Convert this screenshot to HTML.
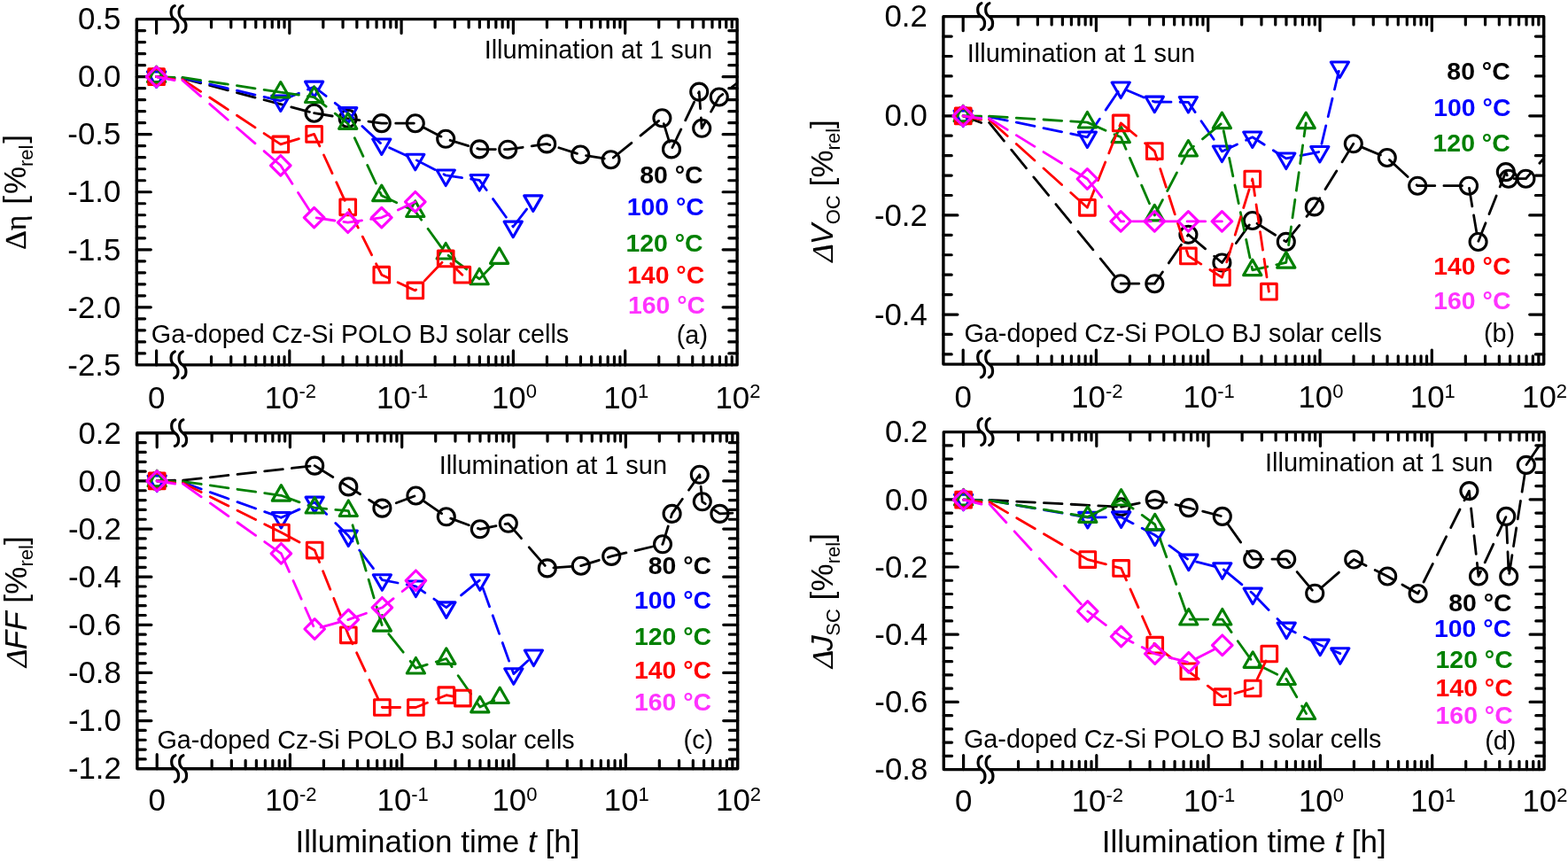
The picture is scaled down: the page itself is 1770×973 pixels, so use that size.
<!DOCTYPE html>
<html lang="en"><head><meta charset="utf-8"><title>Illumination degradation of Ga-doped Cz-Si POLO BJ solar cells</title>
<style>
html,body{margin:0;padding:0;background:#fff;}
body{width:1770px;height:973px;overflow:hidden;font-family:"Liberation Sans",Arial,sans-serif;}
svg{display:block;}
svg text{white-space:pre;}
</style></head><body>
<svg width="1770" height="973" viewBox="0 0 1770 973">
<rect width="1770" height="973" fill="#fff"/>
<defs><clipPath id="clip_a"><rect x="134.3" y="7.6" width="699" height="418.3"/></clipPath><clipPath id="clip_b"><rect x="1044.9" y="4.65" width="699" height="420.45"/></clipPath><clipPath id="clip_c"><rect x="134.9" y="474.8" width="699" height="406.9"/></clipPath><clipPath id="clip_d"><rect x="1045.3" y="473.6" width="699" height="409"/></clipPath></defs>
<g id="panel_a">
<g stroke="#000" stroke-width="3.4" fill="none" stroke-linecap="round"><rect x="154.3" y="21.6" width="677.8" height="390.3" stroke-linejoin="round"/><path stroke-width="3.2" d="M154.3 34.61h9.3 M832.1 34.61h-9.3 M154.3 47.62h9.3 M832.1 47.62h-9.3 M154.3 60.63h9.3 M832.1 60.63h-9.3 M154.3 73.64h9.3 M832.1 73.64h-9.3 M154.3 86.65h16 M832.1 86.65h-16 M154.3 99.66h9.3 M832.1 99.66h-9.3 M154.3 112.67h9.3 M832.1 112.67h-9.3 M154.3 125.68h9.3 M832.1 125.68h-9.3 M154.3 138.69h9.3 M832.1 138.69h-9.3 M154.3 151.7h16 M832.1 151.7h-16 M154.3 164.71h9.3 M832.1 164.71h-9.3 M154.3 177.72h9.3 M832.1 177.72h-9.3 M154.3 190.73h9.3 M832.1 190.73h-9.3 M154.3 203.74h9.3 M832.1 203.74h-9.3 M154.3 216.75h16 M832.1 216.75h-16 M154.3 229.76h9.3 M832.1 229.76h-9.3 M154.3 242.77h9.3 M832.1 242.77h-9.3 M154.3 255.78h9.3 M832.1 255.78h-9.3 M154.3 268.79h9.3 M832.1 268.79h-9.3 M154.3 281.8h16 M832.1 281.8h-16 M154.3 294.81h9.3 M832.1 294.81h-9.3 M154.3 307.82h9.3 M832.1 307.82h-9.3 M154.3 320.83h9.3 M832.1 320.83h-9.3 M154.3 333.84h9.3 M832.1 333.84h-9.3 M154.3 346.85h16 M832.1 346.85h-16 M154.3 359.86h9.3 M832.1 359.86h-9.3 M154.3 372.87h9.3 M832.1 372.87h-9.3 M154.3 385.88h9.3 M832.1 385.88h-9.3 M154.3 398.89h9.3 M832.1 398.89h-9.3 M176.6 21.6v16 M176.6 411.9v-16 M238.52 21.6v9.3 M238.52 411.9v-9.3 M260.76 21.6v9.3 M260.76 411.9v-9.3 M276.54 21.6v9.3 M276.54 411.9v-9.3 M288.78 21.6v9.3 M288.78 411.9v-9.3 M298.78 21.6v9.3 M298.78 411.9v-9.3 M307.24 21.6v9.3 M307.24 411.9v-9.3 M314.56 21.6v9.3 M314.56 411.9v-9.3 M321.02 21.6v9.3 M321.02 411.9v-9.3 M326.8 21.6v16 M326.8 411.9v-16 M364.82 21.6v9.3 M364.82 411.9v-9.3 M387.06 21.6v9.3 M387.06 411.9v-9.3 M402.84 21.6v9.3 M402.84 411.9v-9.3 M415.08 21.6v9.3 M415.08 411.9v-9.3 M425.08 21.6v9.3 M425.08 411.9v-9.3 M433.54 21.6v9.3 M433.54 411.9v-9.3 M440.86 21.6v9.3 M440.86 411.9v-9.3 M447.32 21.6v9.3 M447.32 411.9v-9.3 M453.1 21.6v16 M453.1 411.9v-16 M491.12 21.6v9.3 M491.12 411.9v-9.3 M513.36 21.6v9.3 M513.36 411.9v-9.3 M529.14 21.6v9.3 M529.14 411.9v-9.3 M541.38 21.6v9.3 M541.38 411.9v-9.3 M551.38 21.6v9.3 M551.38 411.9v-9.3 M559.84 21.6v9.3 M559.84 411.9v-9.3 M567.16 21.6v9.3 M567.16 411.9v-9.3 M573.62 21.6v9.3 M573.62 411.9v-9.3 M579.4 21.6v16 M579.4 411.9v-16 M617.42 21.6v9.3 M617.42 411.9v-9.3 M639.66 21.6v9.3 M639.66 411.9v-9.3 M655.44 21.6v9.3 M655.44 411.9v-9.3 M667.68 21.6v9.3 M667.68 411.9v-9.3 M677.68 21.6v9.3 M677.68 411.9v-9.3 M686.14 21.6v9.3 M686.14 411.9v-9.3 M693.46 21.6v9.3 M693.46 411.9v-9.3 M699.92 21.6v9.3 M699.92 411.9v-9.3 M705.7 21.6v16 M705.7 411.9v-16 M743.72 21.6v9.3 M743.72 411.9v-9.3 M765.96 21.6v9.3 M765.96 411.9v-9.3 M781.74 21.6v9.3 M781.74 411.9v-9.3 M793.98 21.6v9.3 M793.98 411.9v-9.3 M803.98 21.6v9.3 M803.98 411.9v-9.3 M812.44 21.6v9.3 M812.44 411.9v-9.3 M819.76 21.6v9.3 M819.76 411.9v-9.3 M826.22 21.6v9.3 M826.22 411.9v-9.3"/></g>
<rect x="197" y="18.6" width="9" height="6" fill="#fff"/>
<path d="M197.3 6.6 C191.7 8.6 191.7 18.3 197 21.6 C202.3 24.9 202.3 34.6 196.7 36.4 M206.3 6.6 C200.7 8.6 200.7 18.3 206 21.6 C211.3 24.9 211.3 34.6 205.7 36.4" fill="none" stroke="#000" stroke-width="3.2" stroke-linecap="round"/>
<rect x="197" y="408.9" width="9" height="6" fill="#fff"/>
<path d="M197.3 396.9 C191.7 398.9 191.7 408.6 197 411.9 C202.3 415.2 202.3 424.9 196.7 426.7 M206.3 396.9 C200.7 398.9 200.7 408.6 206 411.9 C211.3 415.2 211.3 424.9 205.7 426.7" fill="none" stroke="#000" stroke-width="3.2" stroke-linecap="round"/>
<g clip-path="url(#clip_a)">
<path d="M176.6 86.7 L197 88.34 M206 88.34 L226.6 93.8 M236.7 96.47 L257.3 101.93 M267.4 104.6 L288 110.06 M298.1 112.73 L318.7 118.19 M328.8 120.87 L349.4 126.32 M354.6 127.7 L375.2 131 M385.3 132.62 L392.7 133.8 L405.9 135.64 M416 137.04 L430.8 139.1 L436.6 139.12 M446.7 139.14 L467.3 139.2 M477.4 143.6 L498 154.14 M508.1 158.3 L528.7 164.58 M538.8 167.67 L541.2 168.4 L559.4 168.57 M569.5 168.67 L573.2 168.7 L590.1 166.28 M600.2 164.83 L617.2 162.4 L620.8 163.55 M630.9 166.76 L651.5 173.32 M661.6 175.56 L682.2 178.97 M692.3 178.01 L712.9 161.29 M723 153.1 L743.6 136.38 M749.3 139.6 L755.52 160.2 M758.91 166.5 L768.83 145.9 M773.7 135.8 L783.61 115.2 M788.48 105.1 L789.2 103.6 L790.59 122.7 M791.33 132.8 L792.2 144.8 L796.98 136.2 M802.58 126.1 L811.8 109.5 L815.8 106.39 M825.9 98.52 L846.5 82.48" fill="none" stroke="#000000" stroke-width="2.8" stroke-linecap="round" stroke-linejoin="round"/>
<circle cx="176.6" cy="86.7" r="9.5" fill="none" stroke="#000000" stroke-width="3.1" stroke-linejoin="round"/>
<circle cx="354.6" cy="127.7" r="9.5" fill="none" stroke="#000000" stroke-width="3.1" stroke-linejoin="round"/>
<circle cx="392.7" cy="133.8" r="9.5" fill="none" stroke="#000000" stroke-width="3.1" stroke-linejoin="round"/>
<circle cx="430.8" cy="139.1" r="9.5" fill="none" stroke="#000000" stroke-width="3.1" stroke-linejoin="round"/>
<circle cx="468.8" cy="139.2" r="9.5" fill="none" stroke="#000000" stroke-width="3.1" stroke-linejoin="round"/>
<circle cx="503.2" cy="156.8" r="9.5" fill="none" stroke="#000000" stroke-width="3.1" stroke-linejoin="round"/>
<circle cx="541.2" cy="168.4" r="9.5" fill="none" stroke="#000000" stroke-width="3.1" stroke-linejoin="round"/>
<circle cx="573.2" cy="168.7" r="9.5" fill="none" stroke="#000000" stroke-width="3.1" stroke-linejoin="round"/>
<circle cx="617.2" cy="162.4" r="9.5" fill="none" stroke="#000000" stroke-width="3.1" stroke-linejoin="round"/>
<circle cx="655.2" cy="174.5" r="9.5" fill="none" stroke="#000000" stroke-width="3.1" stroke-linejoin="round"/>
<circle cx="689.6" cy="180.2" r="9.5" fill="none" stroke="#000000" stroke-width="3.1" stroke-linejoin="round"/>
<circle cx="747.4" cy="133.3" r="9.5" fill="none" stroke="#000000" stroke-width="3.1" stroke-linejoin="round"/>
<circle cx="758" cy="168.4" r="9.5" fill="none" stroke="#000000" stroke-width="3.1" stroke-linejoin="round"/>
<circle cx="789.2" cy="103.6" r="9.5" fill="none" stroke="#000000" stroke-width="3.1" stroke-linejoin="round"/>
<circle cx="792.2" cy="144.8" r="9.5" fill="none" stroke="#000000" stroke-width="3.1" stroke-linejoin="round"/>
<circle cx="811.8" cy="109.5" r="9.5" fill="none" stroke="#000000" stroke-width="3.1" stroke-linejoin="round"/>
<path d="M176.6 86.7 L197 87.78 M206 87.78 L226.6 92.62 M236.7 94.99 L257.3 99.83 M267.4 102.2 L288 107.04 M298.1 109.41 L316.8 113.8 M316.8 113.8 L337.4 105.19 M347.5 100.97 L354.6 98 L368.1 108.45 M378.2 116.27 L392.7 127.5 L398.8 133.15 M408.9 142.51 L429.5 161.6 M439.6 166.81 L460.2 176.18 M470.3 180.88 L490.9 191.54 M501 196.76 L503.2 197.9 L521.6 200.56 M531.7 202.03 L541.2 203.4 L549.22 214.5 M556.52 224.6 L571.4 245.2 M578.69 255.3 L579.2 256 L594.55 236.1" fill="none" stroke="#0000ff" stroke-width="2.8" stroke-linecap="round" stroke-linejoin="round"/>
<path d="M176.6 98.36 L186.7 80.87 L166.5 80.87Z" fill="none" stroke="#0000ff" stroke-width="3.1" stroke-linejoin="round"/>
<path d="M316.8 125.46 L326.9 107.97 L306.7 107.97Z" fill="none" stroke="#0000ff" stroke-width="3.1" stroke-linejoin="round"/>
<path d="M354.6 109.66 L364.7 92.17 L344.5 92.17Z" fill="none" stroke="#0000ff" stroke-width="3.1" stroke-linejoin="round"/>
<path d="M392.7 139.16 L402.8 121.67 L382.6 121.67Z" fill="none" stroke="#0000ff" stroke-width="3.1" stroke-linejoin="round"/>
<path d="M430.8 174.46 L440.9 156.97 L420.7 156.97Z" fill="none" stroke="#0000ff" stroke-width="3.1" stroke-linejoin="round"/>
<path d="M468.8 191.76 L478.9 174.27 L458.7 174.27Z" fill="none" stroke="#0000ff" stroke-width="3.1" stroke-linejoin="round"/>
<path d="M503.2 209.56 L513.3 192.07 L493.1 192.07Z" fill="none" stroke="#0000ff" stroke-width="3.1" stroke-linejoin="round"/>
<path d="M541.2 215.06 L551.3 197.57 L531.1 197.57Z" fill="none" stroke="#0000ff" stroke-width="3.1" stroke-linejoin="round"/>
<path d="M579.2 267.66 L589.3 250.17 L569.1 250.17Z" fill="none" stroke="#0000ff" stroke-width="3.1" stroke-linejoin="round"/>
<path d="M601.8 238.36 L611.9 220.87 L591.7 220.87Z" fill="none" stroke="#0000ff" stroke-width="3.1" stroke-linejoin="round"/>
<path d="M176.6 86.7 L197 87.4 M206 87.4 L226.6 90.52 M236.7 92.05 L257.3 95.18 M267.4 96.71 L288 99.83 M298.1 101.36 L316.8 104.2 M316.8 104.2 L337.4 107.14 M347.5 108.59 L354.6 109.6 L368.1 120.19 M378.2 128.12 L392.7 139.5 L395.56 145.6 M400.29 155.7 L409.95 176.3 M414.68 186.4 L424.33 207 M429.07 217.1 L430.8 220.8 L447.7 228.72 M457.8 233.45 L468.8 238.6 L475.75 248.2 M483.07 258.3 L497.99 278.9 M506.1 288.3 L526.7 303.91 M536.8 311.57 L541.2 314.9 L556.71 298.7" fill="none" stroke="#008000" stroke-width="2.8" stroke-linecap="round" stroke-linejoin="round"/>
<path d="M176.6 75.04 L186.7 92.53 L166.5 92.53Z" fill="none" stroke="#008000" stroke-width="3.1" stroke-linejoin="round"/>
<path d="M316.8 92.54 L326.9 110.03 L306.7 110.03Z" fill="none" stroke="#008000" stroke-width="3.1" stroke-linejoin="round"/>
<path d="M354.6 97.94 L364.7 115.43 L344.5 115.43Z" fill="none" stroke="#008000" stroke-width="3.1" stroke-linejoin="round"/>
<path d="M392.7 127.84 L402.8 145.33 L382.6 145.33Z" fill="none" stroke="#008000" stroke-width="3.1" stroke-linejoin="round"/>
<path d="M430.8 209.14 L440.9 226.63 L420.7 226.63Z" fill="none" stroke="#008000" stroke-width="3.1" stroke-linejoin="round"/>
<path d="M468.8 226.94 L478.9 244.43 L458.7 244.43Z" fill="none" stroke="#008000" stroke-width="3.1" stroke-linejoin="round"/>
<path d="M503.2 274.44 L513.3 291.93 L493.1 291.93Z" fill="none" stroke="#008000" stroke-width="3.1" stroke-linejoin="round"/>
<path d="M541.2 303.24 L551.3 320.73 L531.1 320.73Z" fill="none" stroke="#008000" stroke-width="3.1" stroke-linejoin="round"/>
<path d="M563.6 279.84 L573.7 297.33 L553.5 297.33Z" fill="none" stroke="#008000" stroke-width="3.1" stroke-linejoin="round"/>
<path d="M176.6 86.7 L197 89.75 M206 89.75 L226.6 103.35 M236.7 110.02 L257.3 123.62 M267.4 130.29 L288 143.89 M298.1 150.55 L316.8 162.9 M316.8 162.9 L337.4 156.63 M347.5 153.56 L354.6 151.4 L360.84 164.9 M365.51 175 L375.04 195.6 M379.71 205.7 L389.23 226.3 M394 236.4 L404.27 257 M409.31 267.1 L419.58 287.7 M424.62 297.8 L430.8 310.2 L439 314.02 M449.1 318.72 L468.8 327.9 L469.66 327 M479.31 316.9 L499 296.3 M508.9 297.51 L521.8 310.2" fill="none" stroke="#ff0000" stroke-width="2.8" stroke-linecap="round" stroke-linejoin="round"/>
<rect x="167.8" y="77.9" width="17.6" height="17.6" fill="none" stroke="#ff0000" stroke-width="3.1" stroke-linejoin="round"/>
<rect x="308" y="154.1" width="17.6" height="17.6" fill="none" stroke="#ff0000" stroke-width="3.1" stroke-linejoin="round"/>
<rect x="345.8" y="142.6" width="17.6" height="17.6" fill="none" stroke="#ff0000" stroke-width="3.1" stroke-linejoin="round"/>
<rect x="383.9" y="225" width="17.6" height="17.6" fill="none" stroke="#ff0000" stroke-width="3.1" stroke-linejoin="round"/>
<rect x="422" y="301.4" width="17.6" height="17.6" fill="none" stroke="#ff0000" stroke-width="3.1" stroke-linejoin="round"/>
<rect x="460" y="319.1" width="17.6" height="17.6" fill="none" stroke="#ff0000" stroke-width="3.1" stroke-linejoin="round"/>
<rect x="494.4" y="283.1" width="17.6" height="17.6" fill="none" stroke="#ff0000" stroke-width="3.1" stroke-linejoin="round"/>
<rect x="513" y="301.4" width="17.6" height="17.6" fill="none" stroke="#ff0000" stroke-width="3.1" stroke-linejoin="round"/>
<path d="M176.6 86.7 L197 90.7 M206 90.7 L226.6 108.57 M236.7 117.33 L257.3 135.2 M267.4 143.96 L288 161.82 M298.1 170.58 L316.8 186.8 M316.8 186.8 L330.04 207.4 M336.54 217.5 L349.78 238.1 M357.2 245.98 L377.8 249.01 M387.9 250.49 L392.7 251.2 L408.5 248.88 M418.6 247.39 L430.8 245.6 L439.2 241.67 M449.3 236.93 L468.8 227.8" fill="none" stroke="#ff00ff" stroke-width="2.8" stroke-linecap="round" stroke-linejoin="round"/>
<path d="M176.6 75.4 L187.9 86.7 L176.6 98 L165.3 86.7Z" fill="none" stroke="#ff00ff" stroke-width="3.1" stroke-linejoin="round"/>
<path d="M316.8 175.5 L328.1 186.8 L316.8 198.1 L305.5 186.8Z" fill="none" stroke="#ff00ff" stroke-width="3.1" stroke-linejoin="round"/>
<path d="M354.6 234.3 L365.9 245.6 L354.6 256.9 L343.3 245.6Z" fill="none" stroke="#ff00ff" stroke-width="3.1" stroke-linejoin="round"/>
<path d="M392.7 239.9 L404 251.2 L392.7 262.5 L381.4 251.2Z" fill="none" stroke="#ff00ff" stroke-width="3.1" stroke-linejoin="round"/>
<path d="M430.8 234.3 L442.1 245.6 L430.8 256.9 L419.5 245.6Z" fill="none" stroke="#ff00ff" stroke-width="3.1" stroke-linejoin="round"/>
<path d="M468.8 216.5 L480.1 227.8 L468.8 239.1 L457.5 227.8Z" fill="none" stroke="#ff00ff" stroke-width="3.1" stroke-linejoin="round"/>
</g>
<g font-family="'Liberation Sans', Arial, sans-serif" font-size="34.8" fill="#000"><text x="136.3" y="33.3" text-anchor="end">0.5</text><text x="136.3" y="98.35" text-anchor="end">0.0</text><text x="136.3" y="163.4" text-anchor="end">-0.5</text><text x="136.3" y="228.45" text-anchor="end">-1.0</text><text x="136.3" y="293.5" text-anchor="end">-1.5</text><text x="136.3" y="358.55" text-anchor="end">-2.0</text><text x="136.3" y="423.6" text-anchor="end">-2.5</text><text x="176.6" y="460.6" text-anchor="middle">0</text><text x="327.8" y="460.6" text-anchor="middle">10<tspan font-size="22.0" dy="-11.3">-2</tspan></text><text x="454.1" y="460.6" text-anchor="middle">10<tspan font-size="22.0" dy="-11.3">-1</tspan></text><text x="580.4" y="460.6" text-anchor="middle">10<tspan font-size="22.0" dy="-11.3">0</tspan></text><text x="706.7" y="460.6" text-anchor="middle">10<tspan font-size="22.0" dy="-11.3">1</tspan></text><text x="833" y="460.6" text-anchor="middle">10<tspan font-size="22.0" dy="-11.3">2</tspan></text></g>
<text x="804.0" y="66.1" font-family="'Liberation Sans', Arial, sans-serif" font-size="28.95" text-anchor="end" >Illumination at 1 sun</text><text x="793.6" y="206.6" font-family="'Liberation Sans', Arial, sans-serif" font-size="28.4" text-anchor="end" font-weight="bold" fill="#000000">80 °C</text><text x="794.8" y="243.3" font-family="'Liberation Sans', Arial, sans-serif" font-size="28.4" text-anchor="end" font-weight="bold" fill="#0000ff">100 °C</text><text x="793.6" y="283.5" font-family="'Liberation Sans', Arial, sans-serif" font-size="28.4" text-anchor="end" font-weight="bold" fill="#008000">120 °C</text><text x="795.2" y="319.7" font-family="'Liberation Sans', Arial, sans-serif" font-size="28.4" text-anchor="end" font-weight="bold" fill="#ff0000">140 °C</text><text x="796.0" y="353.8" font-family="'Liberation Sans', Arial, sans-serif" font-size="28.4" text-anchor="end" font-weight="bold" fill="#ff33ff">160 °C</text><text x="170.8" y="386.8" font-family="'Liberation Sans', Arial, sans-serif" font-size="28.75" text-anchor="start" >Ga-doped Cz-Si POLO BJ solar cells</text><text x="799.0" y="387.5" font-family="'Liberation Sans', Arial, sans-serif" font-size="28.85" text-anchor="end" >(a)</text><text transform="translate(29.4 216.9) rotate(-90)" font-family="'Liberation Sans', Arial, sans-serif" font-size="35.0" text-anchor="middle" fill="#000"><tspan font-family="'Liberation Serif', 'Times New Roman', serif" font-size="33.4" stroke="#000" stroke-width="0.4">Δ</tspan><tspan font-family="'Liberation Serif', 'Times New Roman', serif" font-size="33.5" stroke="#000" stroke-width="0.2">η</tspan> <tspan dx="2.2">[</tspan><tspan dx="2">%</tspan><tspan font-size="22.0" dy="7.5">rel</tspan><tspan dy="-7.5" dx="1.8">]</tspan></text>
</g>
<g id="panel_b">
<g stroke="#000" stroke-width="3.4" fill="none" stroke-linecap="round"><rect x="1064.9" y="18.65" width="677.8" height="392.45" stroke-linejoin="round"/><path stroke-width="3.2" d="M1064.9 41.08h9.3 M1742.7 41.08h-9.3 M1064.9 63.5h9.3 M1742.7 63.5h-9.3 M1064.9 85.93h9.3 M1742.7 85.93h-9.3 M1064.9 108.35h9.3 M1742.7 108.35h-9.3 M1064.9 130.78h16 M1742.7 130.78h-16 M1064.9 153.21h9.3 M1742.7 153.21h-9.3 M1064.9 175.63h9.3 M1742.7 175.63h-9.3 M1064.9 198.06h9.3 M1742.7 198.06h-9.3 M1064.9 220.48h9.3 M1742.7 220.48h-9.3 M1064.9 242.91h16 M1742.7 242.91h-16 M1064.9 265.34h9.3 M1742.7 265.34h-9.3 M1064.9 287.76h9.3 M1742.7 287.76h-9.3 M1064.9 310.19h9.3 M1742.7 310.19h-9.3 M1064.9 332.61h9.3 M1742.7 332.61h-9.3 M1064.9 355.04h16 M1742.7 355.04h-16 M1064.9 377.47h9.3 M1742.7 377.47h-9.3 M1064.9 399.89h9.3 M1742.7 399.89h-9.3 M1087.2 18.65v16 M1087.2 411.1v-16 M1149.12 18.65v9.3 M1149.12 411.1v-9.3 M1171.36 18.65v9.3 M1171.36 411.1v-9.3 M1187.14 18.65v9.3 M1187.14 411.1v-9.3 M1199.38 18.65v9.3 M1199.38 411.1v-9.3 M1209.38 18.65v9.3 M1209.38 411.1v-9.3 M1217.84 18.65v9.3 M1217.84 411.1v-9.3 M1225.16 18.65v9.3 M1225.16 411.1v-9.3 M1231.62 18.65v9.3 M1231.62 411.1v-9.3 M1237.4 18.65v16 M1237.4 411.1v-16 M1275.42 18.65v9.3 M1275.42 411.1v-9.3 M1297.66 18.65v9.3 M1297.66 411.1v-9.3 M1313.44 18.65v9.3 M1313.44 411.1v-9.3 M1325.68 18.65v9.3 M1325.68 411.1v-9.3 M1335.68 18.65v9.3 M1335.68 411.1v-9.3 M1344.14 18.65v9.3 M1344.14 411.1v-9.3 M1351.46 18.65v9.3 M1351.46 411.1v-9.3 M1357.92 18.65v9.3 M1357.92 411.1v-9.3 M1363.7 18.65v16 M1363.7 411.1v-16 M1401.72 18.65v9.3 M1401.72 411.1v-9.3 M1423.96 18.65v9.3 M1423.96 411.1v-9.3 M1439.74 18.65v9.3 M1439.74 411.1v-9.3 M1451.98 18.65v9.3 M1451.98 411.1v-9.3 M1461.98 18.65v9.3 M1461.98 411.1v-9.3 M1470.44 18.65v9.3 M1470.44 411.1v-9.3 M1477.76 18.65v9.3 M1477.76 411.1v-9.3 M1484.22 18.65v9.3 M1484.22 411.1v-9.3 M1490 18.65v16 M1490 411.1v-16 M1528.02 18.65v9.3 M1528.02 411.1v-9.3 M1550.26 18.65v9.3 M1550.26 411.1v-9.3 M1566.04 18.65v9.3 M1566.04 411.1v-9.3 M1578.28 18.65v9.3 M1578.28 411.1v-9.3 M1588.28 18.65v9.3 M1588.28 411.1v-9.3 M1596.74 18.65v9.3 M1596.74 411.1v-9.3 M1604.06 18.65v9.3 M1604.06 411.1v-9.3 M1610.52 18.65v9.3 M1610.52 411.1v-9.3 M1616.3 18.65v16 M1616.3 411.1v-16 M1654.32 18.65v9.3 M1654.32 411.1v-9.3 M1676.56 18.65v9.3 M1676.56 411.1v-9.3 M1692.34 18.65v9.3 M1692.34 411.1v-9.3 M1704.58 18.65v9.3 M1704.58 411.1v-9.3 M1714.58 18.65v9.3 M1714.58 411.1v-9.3 M1723.04 18.65v9.3 M1723.04 411.1v-9.3 M1730.36 18.65v9.3 M1730.36 411.1v-9.3 M1736.82 18.65v9.3 M1736.82 411.1v-9.3"/></g>
<rect x="1107.6" y="15.65" width="9" height="6" fill="#fff"/>
<path d="M1107.9 3.65 C1102.3 5.65 1102.3 15.35 1107.6 18.65 C1112.9 21.95 1112.9 31.65 1107.3 33.45 M1116.9 3.65 C1111.3 5.65 1111.3 15.35 1116.6 18.65 C1121.9 21.95 1121.9 31.65 1116.3 33.45" fill="none" stroke="#000" stroke-width="3.2" stroke-linecap="round"/>
<rect x="1107.6" y="408.1" width="9" height="6" fill="#fff"/>
<path d="M1107.9 396.1 C1102.3 398.1 1102.3 407.8 1107.6 411.1 C1112.9 414.4 1112.9 424.1 1107.3 425.9 M1116.9 396.1 C1111.3 398.1 1111.3 407.8 1116.6 411.1 C1121.9 414.4 1121.9 424.1 1116.3 425.9" fill="none" stroke="#000" stroke-width="3.2" stroke-linecap="round"/>
<g clip-path="url(#clip_b)">
<path d="M1087.2 130.9 L1107.6 138.47 M1116.6 138.47 L1133.44 159.07 M1141.7 169.17 L1158.55 189.77 M1166.81 199.87 L1183.65 220.47 M1191.91 230.57 L1208.76 251.17 M1217.01 261.27 L1233.86 281.87 M1242.12 291.97 L1258.96 312.57 M1265.2 320.2 L1285.8 320.2 M1295.9 320.2 L1303.3 320.2 L1312.38 307 M1319.32 296.9 L1333.49 276.3 M1340.44 266.2 L1341.4 264.8 L1360.6 280.82 M1370.7 289.24 L1379.4 296.5 L1388.02 284.6 M1395.33 274.5 L1410.25 253.9 M1419 252.27 L1439.6 265.23 M1449.7 271.58 L1451.8 272.9 L1466.79 254.4 M1474.97 244.3 L1483.8 233.4 L1489.79 223.7 M1496.04 213.6 L1508.77 193 M1515.01 182.9 L1527.74 162.3 M1537.8 166.36 L1558.4 174.92 M1568.5 180.49 L1589.1 199.47 M1599.2 208.78 L1600.2 209.7 L1619.8 209.7 M1629.9 209.7 L1650.5 209.7 M1658.44 212.3 L1661.88 232.9 M1663.58 243 L1667.03 263.6 M1668.88 272.3 L1677.02 251.7 M1681.02 241.6 L1689.16 221 M1693.16 210.9 L1699.8 194.1 L1701.3 197.9 M1709.1 201.7 L1722.4 201.7 L1728.88 194.4 M1737.85 184.3 L1756.13 163.7" fill="none" stroke="#000000" stroke-width="2.8" stroke-linecap="round" stroke-linejoin="round"/>
<circle cx="1087.2" cy="130.9" r="9.5" fill="none" stroke="#000000" stroke-width="3.1" stroke-linejoin="round"/>
<circle cx="1265.2" cy="320.2" r="9.5" fill="none" stroke="#000000" stroke-width="3.1" stroke-linejoin="round"/>
<circle cx="1303.3" cy="320.2" r="9.5" fill="none" stroke="#000000" stroke-width="3.1" stroke-linejoin="round"/>
<circle cx="1341.4" cy="264.8" r="9.5" fill="none" stroke="#000000" stroke-width="3.1" stroke-linejoin="round"/>
<circle cx="1379.4" cy="296.5" r="9.5" fill="none" stroke="#000000" stroke-width="3.1" stroke-linejoin="round"/>
<circle cx="1413.8" cy="249" r="9.5" fill="none" stroke="#000000" stroke-width="3.1" stroke-linejoin="round"/>
<circle cx="1451.8" cy="272.9" r="9.5" fill="none" stroke="#000000" stroke-width="3.1" stroke-linejoin="round"/>
<circle cx="1483.8" cy="233.4" r="9.5" fill="none" stroke="#000000" stroke-width="3.1" stroke-linejoin="round"/>
<circle cx="1527.8" cy="162.2" r="9.5" fill="none" stroke="#000000" stroke-width="3.1" stroke-linejoin="round"/>
<circle cx="1565.8" cy="178" r="9.5" fill="none" stroke="#000000" stroke-width="3.1" stroke-linejoin="round"/>
<circle cx="1600.2" cy="209.7" r="9.5" fill="none" stroke="#000000" stroke-width="3.1" stroke-linejoin="round"/>
<circle cx="1658" cy="209.7" r="9.5" fill="none" stroke="#000000" stroke-width="3.1" stroke-linejoin="round"/>
<circle cx="1668.6" cy="273" r="9.5" fill="none" stroke="#000000" stroke-width="3.1" stroke-linejoin="round"/>
<circle cx="1699.8" cy="194.1" r="9.5" fill="none" stroke="#000000" stroke-width="3.1" stroke-linejoin="round"/>
<circle cx="1702.8" cy="201.7" r="9.5" fill="none" stroke="#000000" stroke-width="3.1" stroke-linejoin="round"/>
<circle cx="1722.4" cy="201.7" r="9.5" fill="none" stroke="#000000" stroke-width="3.1" stroke-linejoin="round"/>
<path d="M1087.2 130.9 L1107.6 131.86 M1116.6 131.86 L1137.2 136.12 M1147.3 138.21 L1167.9 142.48 M1178 144.57 L1198.6 148.84 M1208.7 150.93 L1227.4 154.8 M1227.4 154.8 L1241.33 134.2 M1248.16 124.1 L1262.09 103.5 M1270.7 101.22 L1291.3 109.93 M1301.4 114.2 L1303.3 115 L1322 115.15 M1332.1 115.23 L1341.4 115.3 L1349.12 126.6 M1356.03 136.7 L1370.11 157.3 M1377.01 167.4 L1379.4 170.9 L1396.5 162.9 M1406.6 158.17 L1413.8 154.8 L1427.2 163.3 M1437.3 169.7 L1451.8 178.9 L1457.9 177.68 M1468 175.66 L1488.6 171.54 M1491.91 162.4 L1496.78 141.8 M1499.17 131.7 L1504.05 111.1 M1506.44 101 L1511.31 80.4" fill="none" stroke="#0000ff" stroke-width="2.8" stroke-linecap="round" stroke-linejoin="round"/>
<path d="M1087.2 142.56 L1097.3 125.07 L1077.1 125.07Z" fill="none" stroke="#0000ff" stroke-width="3.1" stroke-linejoin="round"/>
<path d="M1227.4 166.46 L1237.5 148.97 L1217.3 148.97Z" fill="none" stroke="#0000ff" stroke-width="3.1" stroke-linejoin="round"/>
<path d="M1265.2 110.56 L1275.3 93.07 L1255.1 93.07Z" fill="none" stroke="#0000ff" stroke-width="3.1" stroke-linejoin="round"/>
<path d="M1303.3 126.66 L1313.4 109.17 L1293.2 109.17Z" fill="none" stroke="#0000ff" stroke-width="3.1" stroke-linejoin="round"/>
<path d="M1341.4 126.96 L1351.5 109.47 L1331.3 109.47Z" fill="none" stroke="#0000ff" stroke-width="3.1" stroke-linejoin="round"/>
<path d="M1379.4 182.56 L1389.5 165.07 L1369.3 165.07Z" fill="none" stroke="#0000ff" stroke-width="3.1" stroke-linejoin="round"/>
<path d="M1413.8 166.46 L1423.9 148.97 L1403.7 148.97Z" fill="none" stroke="#0000ff" stroke-width="3.1" stroke-linejoin="round"/>
<path d="M1451.8 190.56 L1461.9 173.07 L1441.7 173.07Z" fill="none" stroke="#0000ff" stroke-width="3.1" stroke-linejoin="round"/>
<path d="M1489.8 182.96 L1499.9 165.47 L1479.7 165.47Z" fill="none" stroke="#0000ff" stroke-width="3.1" stroke-linejoin="round"/>
<path d="M1512.4 87.46 L1522.5 69.97 L1502.3 69.97Z" fill="none" stroke="#0000ff" stroke-width="3.1" stroke-linejoin="round"/>
<path d="M1087.2 130.9 L1107.6 131.19 M1116.6 131.19 L1137.2 132.47 M1147.3 133.1 L1167.9 134.39 M1178 135.02 L1198.6 136.3 M1208.7 136.93 L1227.4 138.1 M1227.4 138.1 L1248 147.2 M1258.1 151.66 L1265.2 154.8 L1271.03 168.3 M1275.39 178.4 L1284.29 199 M1288.66 209.1 L1297.55 229.7 M1301.92 239.8 L1303.3 243 L1312.41 225.6 M1317.69 215.5 L1328.47 194.9 M1333.76 184.8 L1341.4 170.2 L1347.4 165.24 M1357.5 156.9 L1378.1 139.87 M1381.22 147.6 L1385.49 168.2 M1387.59 178.3 L1391.85 198.9 M1393.95 209 L1398.22 229.6 M1400.31 239.7 L1404.58 260.3 M1406.67 270.4 L1410.94 291 M1413.03 301.1 L1413.8 304.8 L1430.7 301.02 M1440.8 298.76 L1451.8 296.3 L1453.17 286.7 M1454.6 276.6 L1457.53 256 M1458.97 245.9 L1461.9 225.3 M1463.33 215.2 L1466.26 194.6 M1467.7 184.5 L1470.63 163.9 M1472.07 153.8 L1474.2 138.8" fill="none" stroke="#008000" stroke-width="2.8" stroke-linecap="round" stroke-linejoin="round"/>
<path d="M1087.2 119.24 L1097.3 136.73 L1077.1 136.73Z" fill="none" stroke="#008000" stroke-width="3.1" stroke-linejoin="round"/>
<path d="M1227.4 126.44 L1237.5 143.93 L1217.3 143.93Z" fill="none" stroke="#008000" stroke-width="3.1" stroke-linejoin="round"/>
<path d="M1265.2 143.14 L1275.3 160.63 L1255.1 160.63Z" fill="none" stroke="#008000" stroke-width="3.1" stroke-linejoin="round"/>
<path d="M1303.3 231.34 L1313.4 248.83 L1293.2 248.83Z" fill="none" stroke="#008000" stroke-width="3.1" stroke-linejoin="round"/>
<path d="M1341.4 158.54 L1351.5 176.03 L1331.3 176.03Z" fill="none" stroke="#008000" stroke-width="3.1" stroke-linejoin="round"/>
<path d="M1379.4 127.14 L1389.5 144.63 L1369.3 144.63Z" fill="none" stroke="#008000" stroke-width="3.1" stroke-linejoin="round"/>
<path d="M1413.8 293.14 L1423.9 310.63 L1403.7 310.63Z" fill="none" stroke="#008000" stroke-width="3.1" stroke-linejoin="round"/>
<path d="M1451.8 284.64 L1461.9 302.13 L1441.7 302.13Z" fill="none" stroke="#008000" stroke-width="3.1" stroke-linejoin="round"/>
<path d="M1474.2 127.14 L1484.3 144.63 L1464.1 144.63Z" fill="none" stroke="#008000" stroke-width="3.1" stroke-linejoin="round"/>
<path d="M1087.2 130.9 L1107.6 135.04 M1116.6 135.04 L1137.2 153.49 M1147.3 162.54 L1167.9 180.99 M1178 190.04 L1198.6 208.5 M1208.7 217.55 L1227.4 234.3 M1227.4 234.3 L1235.56 213.7 M1239.56 203.6 L1247.73 183 M1251.73 172.9 L1259.89 152.3 M1263.89 142.2 L1265.2 138.9 L1282.5 153.29 M1292.6 161.7 L1303.3 170.6 L1306.49 180.5 M1309.74 190.6 L1316.38 211.2 M1319.63 221.3 L1326.26 241.9 M1329.52 252 L1336.15 272.6 M1339.4 282.7 L1341.4 288.9 L1355.8 298.07 M1365.9 304.5 L1379.4 313.1 L1381.6 306 M1384.73 295.9 L1391.1 275.3 M1394.23 265.2 L1400.61 244.6 M1403.74 234.5 L1410.12 213.9 M1413.24 203.8 L1413.8 202 L1416.55 220.8 M1418.03 230.9 L1421.04 251.5 M1422.52 261.6 L1425.53 282.2 M1427 292.3 L1430.02 312.9 M1431.49 323 L1432.4 329.2" fill="none" stroke="#ff0000" stroke-width="2.8" stroke-linecap="round" stroke-linejoin="round"/>
<rect x="1078.4" y="122.1" width="17.6" height="17.6" fill="none" stroke="#ff0000" stroke-width="3.1" stroke-linejoin="round"/>
<rect x="1218.6" y="225.5" width="17.6" height="17.6" fill="none" stroke="#ff0000" stroke-width="3.1" stroke-linejoin="round"/>
<rect x="1256.4" y="130.1" width="17.6" height="17.6" fill="none" stroke="#ff0000" stroke-width="3.1" stroke-linejoin="round"/>
<rect x="1294.5" y="161.8" width="17.6" height="17.6" fill="none" stroke="#ff0000" stroke-width="3.1" stroke-linejoin="round"/>
<rect x="1332.6" y="280.1" width="17.6" height="17.6" fill="none" stroke="#ff0000" stroke-width="3.1" stroke-linejoin="round"/>
<rect x="1370.6" y="304.3" width="17.6" height="17.6" fill="none" stroke="#ff0000" stroke-width="3.1" stroke-linejoin="round"/>
<rect x="1405" y="193.2" width="17.6" height="17.6" fill="none" stroke="#ff0000" stroke-width="3.1" stroke-linejoin="round"/>
<rect x="1423.6" y="320.4" width="17.6" height="17.6" fill="none" stroke="#ff0000" stroke-width="3.1" stroke-linejoin="round"/>
<path d="M1087.2 130.9 L1107.6 133.74 M1116.6 133.74 L1137.2 146.43 M1147.3 152.66 L1167.9 165.35 M1178 171.57 L1198.6 184.26 M1208.7 190.48 L1227.4 202 M1227.4 202 L1243.66 222.6 M1251.63 232.7 L1265.2 249.9 L1268.6 249.9 M1278.7 249.9 L1299.3 249.9 M1309.4 249.9 L1330 249.9 M1340.1 249.9 L1341.4 249.9 L1360.7 249.9 M1370.8 249.9 L1379.4 249.9" fill="none" stroke="#ff00ff" stroke-width="2.8" stroke-linecap="round" stroke-linejoin="round"/>
<path d="M1087.2 119.6 L1098.5 130.9 L1087.2 142.2 L1075.9 130.9Z" fill="none" stroke="#ff00ff" stroke-width="3.1" stroke-linejoin="round"/>
<path d="M1227.4 190.7 L1238.7 202 L1227.4 213.3 L1216.1 202Z" fill="none" stroke="#ff00ff" stroke-width="3.1" stroke-linejoin="round"/>
<path d="M1265.2 238.6 L1276.5 249.9 L1265.2 261.2 L1253.9 249.9Z" fill="none" stroke="#ff00ff" stroke-width="3.1" stroke-linejoin="round"/>
<path d="M1303.3 238.6 L1314.6 249.9 L1303.3 261.2 L1292 249.9Z" fill="none" stroke="#ff00ff" stroke-width="3.1" stroke-linejoin="round"/>
<path d="M1341.4 238.6 L1352.7 249.9 L1341.4 261.2 L1330.1 249.9Z" fill="none" stroke="#ff00ff" stroke-width="3.1" stroke-linejoin="round"/>
<path d="M1379.4 238.6 L1390.7 249.9 L1379.4 261.2 L1368.1 249.9Z" fill="none" stroke="#ff00ff" stroke-width="3.1" stroke-linejoin="round"/>
</g>
<g font-family="'Liberation Sans', Arial, sans-serif" font-size="34.8" fill="#000"><text x="1046.9" y="30.35" text-anchor="end">0.2</text><text x="1046.9" y="142.48" text-anchor="end">0.0</text><text x="1046.9" y="254.61" text-anchor="end">-0.2</text><text x="1046.9" y="366.74" text-anchor="end">-0.4</text><text x="1087.2" y="459.8" text-anchor="middle">0</text><text x="1238.4" y="459.8" text-anchor="middle">10<tspan font-size="22.0" dy="-11.3">-2</tspan></text><text x="1364.7" y="459.8" text-anchor="middle">10<tspan font-size="22.0" dy="-11.3">-1</tspan></text><text x="1491" y="459.8" text-anchor="middle">10<tspan font-size="22.0" dy="-11.3">0</tspan></text><text x="1617.3" y="459.8" text-anchor="middle">10<tspan font-size="22.0" dy="-11.3">1</tspan></text><text x="1743.6" y="459.8" text-anchor="middle">10<tspan font-size="22.0" dy="-11.3">2</tspan></text></g>
<text x="1091.8" y="69.6" font-family="'Liberation Sans', Arial, sans-serif" font-size="28.95" text-anchor="start" >Illumination at 1 sun</text><text x="1704.7" y="90.0" font-family="'Liberation Sans', Arial, sans-serif" font-size="28.4" text-anchor="end" font-weight="bold" fill="#000000">80 °C</text><text x="1705.4" y="131.0" font-family="'Liberation Sans', Arial, sans-serif" font-size="28.4" text-anchor="end" font-weight="bold" fill="#0000ff">100 °C</text><text x="1704.7" y="171.0" font-family="'Liberation Sans', Arial, sans-serif" font-size="28.4" text-anchor="end" font-weight="bold" fill="#008000">120 °C</text><text x="1705.4" y="310.0" font-family="'Liberation Sans', Arial, sans-serif" font-size="28.4" text-anchor="end" font-weight="bold" fill="#ff0000">140 °C</text><text x="1705.4" y="348.6" font-family="'Liberation Sans', Arial, sans-serif" font-size="28.4" text-anchor="end" font-weight="bold" fill="#ff33ff">160 °C</text><text x="1088.5" y="385.6" font-family="'Liberation Sans', Arial, sans-serif" font-size="28.75" text-anchor="start" >Ga-doped Cz-Si POLO BJ solar cells</text><text x="1710.2" y="386.0" font-family="'Liberation Sans', Arial, sans-serif" font-size="28.85" text-anchor="end" >(b)</text><text transform="translate(940.2 215.3) rotate(-90)" font-family="'Liberation Sans', Arial, sans-serif" font-size="35.0" text-anchor="middle" fill="#000"><tspan font-family="'Liberation Serif', 'Times New Roman', serif" font-size="34.5" font-style="italic" stroke="#000" stroke-width="0.25">Δ</tspan><tspan font-style="italic" dx="-1">V</tspan><tspan font-size="22.0" dy="7.5" dx="-0.5">OC</tspan><tspan dy="-7.5"> </tspan>[<tspan dx="0.3">%</tspan><tspan font-size="22.0" dy="7.5">rel</tspan><tspan dy="-7.5" dx="0">]</tspan></text>
</g>
<g id="panel_c">
<g stroke="#000" stroke-width="3.4" fill="none" stroke-linecap="round"><rect x="154.9" y="488.8" width="677.8" height="378.9" stroke-linejoin="round"/><path stroke-width="3.2" d="M154.9 499.63h9.3 M832.7 499.63h-9.3 M154.9 510.45h9.3 M832.7 510.45h-9.3 M154.9 521.28h9.3 M832.7 521.28h-9.3 M154.9 532.1h9.3 M832.7 532.1h-9.3 M154.9 542.93h16 M832.7 542.93h-16 M154.9 553.76h9.3 M832.7 553.76h-9.3 M154.9 564.58h9.3 M832.7 564.58h-9.3 M154.9 575.41h9.3 M832.7 575.41h-9.3 M154.9 586.23h9.3 M832.7 586.23h-9.3 M154.9 597.06h16 M832.7 597.06h-16 M154.9 607.89h9.3 M832.7 607.89h-9.3 M154.9 618.71h9.3 M832.7 618.71h-9.3 M154.9 629.54h9.3 M832.7 629.54h-9.3 M154.9 640.36h9.3 M832.7 640.36h-9.3 M154.9 651.19h16 M832.7 651.19h-16 M154.9 662.02h9.3 M832.7 662.02h-9.3 M154.9 672.84h9.3 M832.7 672.84h-9.3 M154.9 683.67h9.3 M832.7 683.67h-9.3 M154.9 694.49h9.3 M832.7 694.49h-9.3 M154.9 705.32h16 M832.7 705.32h-16 M154.9 716.15h9.3 M832.7 716.15h-9.3 M154.9 726.97h9.3 M832.7 726.97h-9.3 M154.9 737.8h9.3 M832.7 737.8h-9.3 M154.9 748.62h9.3 M832.7 748.62h-9.3 M154.9 759.45h16 M832.7 759.45h-16 M154.9 770.28h9.3 M832.7 770.28h-9.3 M154.9 781.1h9.3 M832.7 781.1h-9.3 M154.9 791.93h9.3 M832.7 791.93h-9.3 M154.9 802.75h9.3 M832.7 802.75h-9.3 M154.9 813.58h16 M832.7 813.58h-16 M154.9 824.41h9.3 M832.7 824.41h-9.3 M154.9 835.23h9.3 M832.7 835.23h-9.3 M154.9 846.06h9.3 M832.7 846.06h-9.3 M154.9 856.88h9.3 M832.7 856.88h-9.3 M177.2 488.8v16 M177.2 867.7v-16 M239.12 488.8v9.3 M239.12 867.7v-9.3 M261.36 488.8v9.3 M261.36 867.7v-9.3 M277.14 488.8v9.3 M277.14 867.7v-9.3 M289.38 488.8v9.3 M289.38 867.7v-9.3 M299.38 488.8v9.3 M299.38 867.7v-9.3 M307.84 488.8v9.3 M307.84 867.7v-9.3 M315.16 488.8v9.3 M315.16 867.7v-9.3 M321.62 488.8v9.3 M321.62 867.7v-9.3 M327.4 488.8v16 M327.4 867.7v-16 M365.42 488.8v9.3 M365.42 867.7v-9.3 M387.66 488.8v9.3 M387.66 867.7v-9.3 M403.44 488.8v9.3 M403.44 867.7v-9.3 M415.68 488.8v9.3 M415.68 867.7v-9.3 M425.68 488.8v9.3 M425.68 867.7v-9.3 M434.14 488.8v9.3 M434.14 867.7v-9.3 M441.46 488.8v9.3 M441.46 867.7v-9.3 M447.92 488.8v9.3 M447.92 867.7v-9.3 M453.7 488.8v16 M453.7 867.7v-16 M491.72 488.8v9.3 M491.72 867.7v-9.3 M513.96 488.8v9.3 M513.96 867.7v-9.3 M529.74 488.8v9.3 M529.74 867.7v-9.3 M541.98 488.8v9.3 M541.98 867.7v-9.3 M551.98 488.8v9.3 M551.98 867.7v-9.3 M560.44 488.8v9.3 M560.44 867.7v-9.3 M567.76 488.8v9.3 M567.76 867.7v-9.3 M574.22 488.8v9.3 M574.22 867.7v-9.3 M580 488.8v16 M580 867.7v-16 M618.02 488.8v9.3 M618.02 867.7v-9.3 M640.26 488.8v9.3 M640.26 867.7v-9.3 M656.04 488.8v9.3 M656.04 867.7v-9.3 M668.28 488.8v9.3 M668.28 867.7v-9.3 M678.28 488.8v9.3 M678.28 867.7v-9.3 M686.74 488.8v9.3 M686.74 867.7v-9.3 M694.06 488.8v9.3 M694.06 867.7v-9.3 M700.52 488.8v9.3 M700.52 867.7v-9.3 M706.3 488.8v16 M706.3 867.7v-16 M744.32 488.8v9.3 M744.32 867.7v-9.3 M766.56 488.8v9.3 M766.56 867.7v-9.3 M782.34 488.8v9.3 M782.34 867.7v-9.3 M794.58 488.8v9.3 M794.58 867.7v-9.3 M804.58 488.8v9.3 M804.58 867.7v-9.3 M813.04 488.8v9.3 M813.04 867.7v-9.3 M820.36 488.8v9.3 M820.36 867.7v-9.3 M826.82 488.8v9.3 M826.82 867.7v-9.3"/></g>
<rect x="197.6" y="485.8" width="9" height="6" fill="#fff"/>
<path d="M197.9 473.8 C192.3 475.8 192.3 485.5 197.6 488.8 C202.9 492.1 202.9 501.8 197.3 503.6 M206.9 473.8 C201.3 475.8 201.3 485.5 206.6 488.8 C211.9 492.1 211.9 501.8 206.3 503.6" fill="none" stroke="#000" stroke-width="3.2" stroke-linecap="round"/>
<rect x="197.6" y="864.7" width="9" height="6" fill="#fff"/>
<path d="M197.9 852.7 C192.3 854.7 192.3 864.4 197.6 867.7 C202.9 871 202.9 880.7 197.3 882.5 M206.9 852.7 C201.3 854.7 201.3 864.4 206.6 867.7 C211.9 871 211.9 880.7 206.3 882.5" fill="none" stroke="#000" stroke-width="3.2" stroke-linecap="round"/>
<g clip-path="url(#clip_c)">
<path d="M177.2 542.9 L197.6 542.21 M206.6 542.21 L227.2 539.91 M237.3 538.78 L257.9 536.47 M268 535.35 L288.6 533.04 M298.7 531.91 L319.3 529.61 M329.4 528.48 L350 526.18 M355.2 525.6 L375.8 538.47 M385.9 544.78 L393.3 549.4 L406.5 557.78 M416.6 564.2 L431.4 573.6 L437.2 571.45 M447.3 567.7 L467.9 560.06 M478 565.45 L498.6 579.7 M508.7 585.11 L529.3 592.69 M539.4 596.42 L541.8 597.3 L560 593.6 M570.1 591.55 L573.8 590.8 L588.5 607.7 M597.28 617.8 L615.19 638.4 M624.9 640.9 L645.5 639.43 M655.6 638.71 L655.8 638.7 L676.2 632.3 M686.3 629.12 L690.2 627.9 L706.9 623.97 M717 621.59 L737.6 616.75 M747.7 614.37 L748 614.3 L754.26 594 M757.37 583.9 L758.6 579.9 L770.34 563.3 M777.49 553.2 L789.8 535.8 L790.11 539 M791.11 549.1 L792.8 566.3 L796.2 568.66 M806.3 575.67 L812.4 579.9 L826.9 579.11 M837 578.56 L847.2 578" fill="none" stroke="#000000" stroke-width="2.8" stroke-linecap="round" stroke-linejoin="round"/>
<circle cx="177.2" cy="542.9" r="9.5" fill="none" stroke="#000000" stroke-width="3.1" stroke-linejoin="round"/>
<circle cx="355.2" cy="525.6" r="9.5" fill="none" stroke="#000000" stroke-width="3.1" stroke-linejoin="round"/>
<circle cx="393.3" cy="549.4" r="9.5" fill="none" stroke="#000000" stroke-width="3.1" stroke-linejoin="round"/>
<circle cx="431.4" cy="573.6" r="9.5" fill="none" stroke="#000000" stroke-width="3.1" stroke-linejoin="round"/>
<circle cx="469.4" cy="559.5" r="9.5" fill="none" stroke="#000000" stroke-width="3.1" stroke-linejoin="round"/>
<circle cx="503.8" cy="583.3" r="9.5" fill="none" stroke="#000000" stroke-width="3.1" stroke-linejoin="round"/>
<circle cx="541.8" cy="597.3" r="9.5" fill="none" stroke="#000000" stroke-width="3.1" stroke-linejoin="round"/>
<circle cx="573.8" cy="590.8" r="9.5" fill="none" stroke="#000000" stroke-width="3.1" stroke-linejoin="round"/>
<circle cx="617.8" cy="641.4" r="9.5" fill="none" stroke="#000000" stroke-width="3.1" stroke-linejoin="round"/>
<circle cx="655.8" cy="638.7" r="9.5" fill="none" stroke="#000000" stroke-width="3.1" stroke-linejoin="round"/>
<circle cx="690.2" cy="627.9" r="9.5" fill="none" stroke="#000000" stroke-width="3.1" stroke-linejoin="round"/>
<circle cx="748" cy="614.3" r="9.5" fill="none" stroke="#000000" stroke-width="3.1" stroke-linejoin="round"/>
<circle cx="758.6" cy="579.9" r="9.5" fill="none" stroke="#000000" stroke-width="3.1" stroke-linejoin="round"/>
<circle cx="789.8" cy="535.8" r="9.5" fill="none" stroke="#000000" stroke-width="3.1" stroke-linejoin="round"/>
<circle cx="792.8" cy="566.3" r="9.5" fill="none" stroke="#000000" stroke-width="3.1" stroke-linejoin="round"/>
<circle cx="812.4" cy="579.9" r="9.5" fill="none" stroke="#000000" stroke-width="3.1" stroke-linejoin="round"/>
<path d="M177.2 542.9 L197.6 544.56 M206.6 544.56 L227.2 551.95 M237.3 555.57 L257.9 562.96 M268 566.58 L288.6 573.97 M298.7 577.59 L317.4 584.3 M317.4 584.3 L338 574.87 M348.1 570.25 L355.2 567 L368.7 580.39 M378.8 590.41 L393.3 604.8 L397.97 610.9 M405.69 621 L421.45 641.6 M429.18 651.7 L431.4 654.6 L449.1 658 M459.2 659.94 L469.4 661.9 L479.8 669.1 M489.9 676.08 L503.8 685.7 L510.5 680.22 M520.6 671.95 L541.2 655.09 M545.21 664.1 L552.59 684.7 M556.21 694.8 L563.6 715.4 M567.22 725.5 L574.6 746.1 M578.22 756.2 L579.8 760.6 L596 745.76" fill="none" stroke="#0000ff" stroke-width="2.8" stroke-linecap="round" stroke-linejoin="round"/>
<path d="M177.2 554.56 L187.3 537.07 L167.1 537.07Z" fill="none" stroke="#0000ff" stroke-width="3.1" stroke-linejoin="round"/>
<path d="M317.4 595.96 L327.5 578.47 L307.3 578.47Z" fill="none" stroke="#0000ff" stroke-width="3.1" stroke-linejoin="round"/>
<path d="M355.2 578.66 L365.3 561.17 L345.1 561.17Z" fill="none" stroke="#0000ff" stroke-width="3.1" stroke-linejoin="round"/>
<path d="M393.3 616.46 L403.4 598.97 L383.2 598.97Z" fill="none" stroke="#0000ff" stroke-width="3.1" stroke-linejoin="round"/>
<path d="M431.4 666.26 L441.5 648.77 L421.3 648.77Z" fill="none" stroke="#0000ff" stroke-width="3.1" stroke-linejoin="round"/>
<path d="M469.4 673.56 L479.5 656.07 L459.3 656.07Z" fill="none" stroke="#0000ff" stroke-width="3.1" stroke-linejoin="round"/>
<path d="M503.8 697.36 L513.9 679.87 L493.7 679.87Z" fill="none" stroke="#0000ff" stroke-width="3.1" stroke-linejoin="round"/>
<path d="M541.8 666.26 L551.9 648.77 L531.7 648.77Z" fill="none" stroke="#0000ff" stroke-width="3.1" stroke-linejoin="round"/>
<path d="M579.8 772.26 L589.9 754.77 L569.7 754.77Z" fill="none" stroke="#0000ff" stroke-width="3.1" stroke-linejoin="round"/>
<path d="M602.4 751.56 L612.5 734.07 L592.3 734.07Z" fill="none" stroke="#0000ff" stroke-width="3.1" stroke-linejoin="round"/>
<path d="M177.2 542.9 L197.6 543.56 M206.6 543.56 L227.2 546.48 M237.3 547.92 L257.9 550.85 M268 552.28 L288.6 555.21 M298.7 556.64 L317.4 559.3 M317.4 559.3 L338 566.88 M348.1 570.59 L355.2 573.2 L368.7 574.4 M378.8 575.31 L393.3 576.6 L395.09 582.7 M398.06 592.8 L404.11 613.4 M407.08 623.5 L413.13 644.1 M416.1 654.2 L422.15 674.8 M425.11 684.9 L431.16 705.5 M438.79 715.6 L455.17 736.2 M463.2 746.3 L469.4 754.1 L482.2 750.16 M492.3 747.04 L503.8 743.5 L510.14 752.6 M517.19 762.7 L531.55 783.3 M538.59 793.4 L541.8 798 L557.8 790.64" fill="none" stroke="#008000" stroke-width="2.8" stroke-linecap="round" stroke-linejoin="round"/>
<path d="M177.2 531.24 L187.3 548.73 L167.1 548.73Z" fill="none" stroke="#008000" stroke-width="3.1" stroke-linejoin="round"/>
<path d="M317.4 547.64 L327.5 565.13 L307.3 565.13Z" fill="none" stroke="#008000" stroke-width="3.1" stroke-linejoin="round"/>
<path d="M355.2 561.54 L365.3 579.03 L345.1 579.03Z" fill="none" stroke="#008000" stroke-width="3.1" stroke-linejoin="round"/>
<path d="M393.3 564.94 L403.4 582.43 L383.2 582.43Z" fill="none" stroke="#008000" stroke-width="3.1" stroke-linejoin="round"/>
<path d="M431.4 694.64 L441.5 712.13 L421.3 712.13Z" fill="none" stroke="#008000" stroke-width="3.1" stroke-linejoin="round"/>
<path d="M469.4 742.44 L479.5 759.93 L459.3 759.93Z" fill="none" stroke="#008000" stroke-width="3.1" stroke-linejoin="round"/>
<path d="M503.8 731.84 L513.9 749.33 L493.7 749.33Z" fill="none" stroke="#008000" stroke-width="3.1" stroke-linejoin="round"/>
<path d="M541.8 786.34 L551.9 803.83 L531.7 803.83Z" fill="none" stroke="#008000" stroke-width="3.1" stroke-linejoin="round"/>
<path d="M564.2 776.04 L574.3 793.53 L554.1 793.53Z" fill="none" stroke="#008000" stroke-width="3.1" stroke-linejoin="round"/>
<path d="M177.2 542.9 L197.6 545.23 M206.6 545.23 L227.2 555.62 M237.3 560.71 L257.9 571.1 M268 576.19 L288.6 586.58 M298.7 591.67 L317.4 601.1 M317.4 601.1 L338 612 M348.1 617.34 L355.2 621.1 L360.57 634.6 M364.6 644.7 L372.8 665.3 M376.82 675.4 L385.02 696 M389.04 706.1 L393.3 716.8 L397.92 726.7 M402.63 736.8 L412.23 757.4 M416.94 767.5 L426.55 788.1 M431.26 798.2 L431.4 798.5 L451.7 798.5 M461.8 798.5 L469.4 798.5 L482.4 793.28 M492.5 789.23 L503.8 784.7 L513.1 786.4" fill="none" stroke="#ff0000" stroke-width="2.8" stroke-linecap="round" stroke-linejoin="round"/>
<rect x="168.4" y="534.1" width="17.6" height="17.6" fill="none" stroke="#ff0000" stroke-width="3.1" stroke-linejoin="round"/>
<rect x="308.6" y="592.3" width="17.6" height="17.6" fill="none" stroke="#ff0000" stroke-width="3.1" stroke-linejoin="round"/>
<rect x="346.4" y="612.3" width="17.6" height="17.6" fill="none" stroke="#ff0000" stroke-width="3.1" stroke-linejoin="round"/>
<rect x="384.5" y="708" width="17.6" height="17.6" fill="none" stroke="#ff0000" stroke-width="3.1" stroke-linejoin="round"/>
<rect x="422.6" y="789.7" width="17.6" height="17.6" fill="none" stroke="#ff0000" stroke-width="3.1" stroke-linejoin="round"/>
<rect x="460.6" y="789.7" width="17.6" height="17.6" fill="none" stroke="#ff0000" stroke-width="3.1" stroke-linejoin="round"/>
<rect x="495" y="775.9" width="17.6" height="17.6" fill="none" stroke="#ff0000" stroke-width="3.1" stroke-linejoin="round"/>
<rect x="513.6" y="779.3" width="17.6" height="17.6" fill="none" stroke="#ff0000" stroke-width="3.1" stroke-linejoin="round"/>
<path d="M177.2 542.9 L197.6 546.18 M206.6 546.18 L227.2 560.79 M237.3 567.96 L257.9 582.58 M268 589.75 L288.6 604.36 M298.7 611.53 L317.4 624.8 M317.4 624.8 L326.54 645.4 M331.02 655.5 L340.16 676.1 M344.64 686.2 L353.78 706.8 M362.1 708.08 L382.7 702.35 M392.8 699.54 L393.3 699.4 L413.4 692.23 M423.5 688.62 L431.4 685.8 L444.1 675.61 M454.2 667.5 L469.4 655.3" fill="none" stroke="#ff00ff" stroke-width="2.8" stroke-linecap="round" stroke-linejoin="round"/>
<path d="M177.2 531.6 L188.5 542.9 L177.2 554.2 L165.9 542.9Z" fill="none" stroke="#ff00ff" stroke-width="3.1" stroke-linejoin="round"/>
<path d="M317.4 613.5 L328.7 624.8 L317.4 636.1 L306.1 624.8Z" fill="none" stroke="#ff00ff" stroke-width="3.1" stroke-linejoin="round"/>
<path d="M355.2 698.7 L366.5 710 L355.2 721.3 L343.9 710Z" fill="none" stroke="#ff00ff" stroke-width="3.1" stroke-linejoin="round"/>
<path d="M393.3 688.1 L404.6 699.4 L393.3 710.7 L382 699.4Z" fill="none" stroke="#ff00ff" stroke-width="3.1" stroke-linejoin="round"/>
<path d="M431.4 674.5 L442.7 685.8 L431.4 697.1 L420.1 685.8Z" fill="none" stroke="#ff00ff" stroke-width="3.1" stroke-linejoin="round"/>
<path d="M469.4 644 L480.7 655.3 L469.4 666.6 L458.1 655.3Z" fill="none" stroke="#ff00ff" stroke-width="3.1" stroke-linejoin="round"/>
</g>
<g font-family="'Liberation Sans', Arial, sans-serif" font-size="34.8" fill="#000"><text x="136.9" y="500.5" text-anchor="end">0.2</text><text x="136.9" y="554.63" text-anchor="end">0.0</text><text x="136.9" y="608.76" text-anchor="end">-0.2</text><text x="136.9" y="662.89" text-anchor="end">-0.4</text><text x="136.9" y="717.02" text-anchor="end">-0.6</text><text x="136.9" y="771.15" text-anchor="end">-0.8</text><text x="136.9" y="825.28" text-anchor="end">-1.0</text><text x="136.9" y="879.41" text-anchor="end">-1.2</text><text x="177.2" y="914.9" text-anchor="middle">0</text><text x="328.4" y="914.9" text-anchor="middle">10<tspan font-size="22.0" dy="-11.3">-2</tspan></text><text x="454.7" y="914.9" text-anchor="middle">10<tspan font-size="22.0" dy="-11.3">-1</tspan></text><text x="581" y="914.9" text-anchor="middle">10<tspan font-size="22.0" dy="-11.3">0</tspan></text><text x="707.3" y="914.9" text-anchor="middle">10<tspan font-size="22.0" dy="-11.3">1</tspan></text><text x="833.6" y="914.9" text-anchor="middle">10<tspan font-size="22.0" dy="-11.3">2</tspan></text></g>
<text x="753.0" y="534.9" font-family="'Liberation Sans', Arial, sans-serif" font-size="28.95" text-anchor="end" >Illumination at 1 sun</text><text x="803.0" y="647.9" font-family="'Liberation Sans', Arial, sans-serif" font-size="28.4" text-anchor="end" font-weight="bold" fill="#000000">80 °C</text><text x="803.0" y="686.5" font-family="'Liberation Sans', Arial, sans-serif" font-size="28.4" text-anchor="end" font-weight="bold" fill="#0000ff">100 °C</text><text x="803.0" y="728.4" font-family="'Liberation Sans', Arial, sans-serif" font-size="28.4" text-anchor="end" font-weight="bold" fill="#008000">120 °C</text><text x="803.0" y="766.0" font-family="'Liberation Sans', Arial, sans-serif" font-size="28.4" text-anchor="end" font-weight="bold" fill="#ff0000">140 °C</text><text x="803.0" y="801.5" font-family="'Liberation Sans', Arial, sans-serif" font-size="28.4" text-anchor="end" font-weight="bold" fill="#ff33ff">160 °C</text><text x="177.4" y="844.8" font-family="'Liberation Sans', Arial, sans-serif" font-size="28.75" text-anchor="start" >Ga-doped Cz-Si POLO BJ solar cells</text><text x="805.2" y="845.0" font-family="'Liberation Sans', Arial, sans-serif" font-size="28.85" text-anchor="end" >(c)</text><text transform="translate(29.6 679.1) rotate(-90)" font-family="'Liberation Sans', Arial, sans-serif" font-size="35.0" text-anchor="middle" fill="#000"><tspan font-family="'Liberation Serif', 'Times New Roman', serif" font-size="34.5" font-style="italic" stroke="#000" stroke-width="0.25">Δ</tspan><tspan font-style="italic" dx="-0.5">FF</tspan> [<tspan dx="0.3">%</tspan><tspan font-size="22.0" dy="7.5">rel</tspan><tspan dy="-7.5" dx="0">]</tspan></text>
</g>
<g id="panel_d">
<g stroke="#000" stroke-width="3.4" fill="none" stroke-linecap="round"><rect x="1065.3" y="487.6" width="677.8" height="381" stroke-linejoin="round"/><path stroke-width="3.2" d="M1065.3 502.84h9.3 M1743.1 502.84h-9.3 M1065.3 518.08h9.3 M1743.1 518.08h-9.3 M1065.3 533.32h9.3 M1743.1 533.32h-9.3 M1065.3 548.56h9.3 M1743.1 548.56h-9.3 M1065.3 563.8h16 M1743.1 563.8h-16 M1065.3 579.04h9.3 M1743.1 579.04h-9.3 M1065.3 594.28h9.3 M1743.1 594.28h-9.3 M1065.3 609.52h9.3 M1743.1 609.52h-9.3 M1065.3 624.76h9.3 M1743.1 624.76h-9.3 M1065.3 640h16 M1743.1 640h-16 M1065.3 655.24h9.3 M1743.1 655.24h-9.3 M1065.3 670.48h9.3 M1743.1 670.48h-9.3 M1065.3 685.72h9.3 M1743.1 685.72h-9.3 M1065.3 700.96h9.3 M1743.1 700.96h-9.3 M1065.3 716.2h16 M1743.1 716.2h-16 M1065.3 731.44h9.3 M1743.1 731.44h-9.3 M1065.3 746.68h9.3 M1743.1 746.68h-9.3 M1065.3 761.92h9.3 M1743.1 761.92h-9.3 M1065.3 777.16h9.3 M1743.1 777.16h-9.3 M1065.3 792.4h16 M1743.1 792.4h-16 M1065.3 807.64h9.3 M1743.1 807.64h-9.3 M1065.3 822.88h9.3 M1743.1 822.88h-9.3 M1065.3 838.12h9.3 M1743.1 838.12h-9.3 M1065.3 853.36h9.3 M1743.1 853.36h-9.3 M1087.6 487.6v16 M1087.6 868.6v-16 M1149.52 487.6v9.3 M1149.52 868.6v-9.3 M1171.76 487.6v9.3 M1171.76 868.6v-9.3 M1187.54 487.6v9.3 M1187.54 868.6v-9.3 M1199.78 487.6v9.3 M1199.78 868.6v-9.3 M1209.78 487.6v9.3 M1209.78 868.6v-9.3 M1218.24 487.6v9.3 M1218.24 868.6v-9.3 M1225.56 487.6v9.3 M1225.56 868.6v-9.3 M1232.02 487.6v9.3 M1232.02 868.6v-9.3 M1237.8 487.6v16 M1237.8 868.6v-16 M1275.82 487.6v9.3 M1275.82 868.6v-9.3 M1298.06 487.6v9.3 M1298.06 868.6v-9.3 M1313.84 487.6v9.3 M1313.84 868.6v-9.3 M1326.08 487.6v9.3 M1326.08 868.6v-9.3 M1336.08 487.6v9.3 M1336.08 868.6v-9.3 M1344.54 487.6v9.3 M1344.54 868.6v-9.3 M1351.86 487.6v9.3 M1351.86 868.6v-9.3 M1358.32 487.6v9.3 M1358.32 868.6v-9.3 M1364.1 487.6v16 M1364.1 868.6v-16 M1402.12 487.6v9.3 M1402.12 868.6v-9.3 M1424.36 487.6v9.3 M1424.36 868.6v-9.3 M1440.14 487.6v9.3 M1440.14 868.6v-9.3 M1452.38 487.6v9.3 M1452.38 868.6v-9.3 M1462.38 487.6v9.3 M1462.38 868.6v-9.3 M1470.84 487.6v9.3 M1470.84 868.6v-9.3 M1478.16 487.6v9.3 M1478.16 868.6v-9.3 M1484.62 487.6v9.3 M1484.62 868.6v-9.3 M1490.4 487.6v16 M1490.4 868.6v-16 M1528.42 487.6v9.3 M1528.42 868.6v-9.3 M1550.66 487.6v9.3 M1550.66 868.6v-9.3 M1566.44 487.6v9.3 M1566.44 868.6v-9.3 M1578.68 487.6v9.3 M1578.68 868.6v-9.3 M1588.68 487.6v9.3 M1588.68 868.6v-9.3 M1597.14 487.6v9.3 M1597.14 868.6v-9.3 M1604.46 487.6v9.3 M1604.46 868.6v-9.3 M1610.92 487.6v9.3 M1610.92 868.6v-9.3 M1616.7 487.6v16 M1616.7 868.6v-16 M1654.72 487.6v9.3 M1654.72 868.6v-9.3 M1676.96 487.6v9.3 M1676.96 868.6v-9.3 M1692.74 487.6v9.3 M1692.74 868.6v-9.3 M1704.98 487.6v9.3 M1704.98 868.6v-9.3 M1714.98 487.6v9.3 M1714.98 868.6v-9.3 M1723.44 487.6v9.3 M1723.44 868.6v-9.3 M1730.76 487.6v9.3 M1730.76 868.6v-9.3 M1737.22 487.6v9.3 M1737.22 868.6v-9.3"/></g>
<rect x="1108" y="484.6" width="9" height="6" fill="#fff"/>
<path d="M1108.3 472.6 C1102.7 474.6 1102.7 484.3 1108 487.6 C1113.3 490.9 1113.3 500.6 1107.7 502.4 M1117.3 472.6 C1111.7 474.6 1111.7 484.3 1117 487.6 C1122.3 490.9 1122.3 500.6 1116.7 502.4" fill="none" stroke="#000" stroke-width="3.2" stroke-linecap="round"/>
<rect x="1108" y="865.6" width="9" height="6" fill="#fff"/>
<path d="M1108.3 853.6 C1102.7 855.6 1102.7 865.3 1108 868.6 C1113.3 871.9 1113.3 881.6 1107.7 883.4 M1117.3 853.6 C1111.7 855.6 1111.7 865.3 1117 868.6 C1122.3 871.9 1122.3 881.6 1116.7 883.4" fill="none" stroke="#000" stroke-width="3.2" stroke-linecap="round"/>
<g clip-path="url(#clip_d)">
<path d="M1087.6 564.1 L1108 564.42 M1117 564.42 L1137.6 565.5 M1147.7 566.03 L1168.3 567.11 M1178.4 567.64 L1199 568.71 M1209.1 569.24 L1229.7 570.32 M1239.8 570.85 L1260.4 571.93 M1265.6 572.2 L1286.2 567.82 M1296.3 565.67 L1303.7 564.1 L1316.9 567.22 M1327 569.6 L1341.8 573.1 L1347.6 574.6 M1357.7 577.2 L1378.3 582.51 M1385.93 591.5 L1400.6 612.1 M1407.79 622.2 L1414.2 631.2 L1425.8 631.2 M1435.9 631.2 L1452.2 631.2 L1455.77 635.5 M1464.17 645.6 L1481.29 666.2 M1490.8 663.97 L1511.4 646.09 M1521.5 637.32 L1528.2 631.5 L1542.1 638.45 M1552.2 643.5 L1566.2 650.5 L1572.8 654.24 M1582.9 659.97 L1600.6 670 L1602.05 667.1 M1607.08 657 L1617.36 636.4 M1622.39 626.3 L1632.67 605.7 M1637.7 595.6 L1647.98 575 M1653.01 564.9 L1658.4 554.1 L1659.48 563.9 M1660.59 574 L1662.85 594.6 M1663.96 604.7 L1666.23 625.3 M1667.34 635.4 L1669 650.5 L1671.54 645 M1676.2 634.9 L1685.71 614.3 M1690.37 604.2 L1699.88 583.6 M1700.62 592.3 L1701.53 612.9 M1701.98 623 L1702.89 643.6 M1703.7 647.3 L1706.91 626.7 M1708.49 616.6 L1711.7 596 M1713.28 585.9 L1716.5 565.3 M1718.07 555.2 L1721.29 534.6 M1723.07 524.5 L1736.96 503.9 M1743.77 493.8 L1757.6 473.3" fill="none" stroke="#000000" stroke-width="2.8" stroke-linecap="round" stroke-linejoin="round"/>
<circle cx="1087.6" cy="564.1" r="9.5" fill="none" stroke="#000000" stroke-width="3.1" stroke-linejoin="round"/>
<circle cx="1265.6" cy="572.2" r="9.5" fill="none" stroke="#000000" stroke-width="3.1" stroke-linejoin="round"/>
<circle cx="1303.7" cy="564.1" r="9.5" fill="none" stroke="#000000" stroke-width="3.1" stroke-linejoin="round"/>
<circle cx="1341.8" cy="573.1" r="9.5" fill="none" stroke="#000000" stroke-width="3.1" stroke-linejoin="round"/>
<circle cx="1379.8" cy="582.9" r="9.5" fill="none" stroke="#000000" stroke-width="3.1" stroke-linejoin="round"/>
<circle cx="1414.2" cy="631.2" r="9.5" fill="none" stroke="#000000" stroke-width="3.1" stroke-linejoin="round"/>
<circle cx="1452.2" cy="631.2" r="9.5" fill="none" stroke="#000000" stroke-width="3.1" stroke-linejoin="round"/>
<circle cx="1484.2" cy="669.7" r="9.5" fill="none" stroke="#000000" stroke-width="3.1" stroke-linejoin="round"/>
<circle cx="1528.2" cy="631.5" r="9.5" fill="none" stroke="#000000" stroke-width="3.1" stroke-linejoin="round"/>
<circle cx="1566.2" cy="650.5" r="9.5" fill="none" stroke="#000000" stroke-width="3.1" stroke-linejoin="round"/>
<circle cx="1600.6" cy="670" r="9.5" fill="none" stroke="#000000" stroke-width="3.1" stroke-linejoin="round"/>
<circle cx="1658.4" cy="554.1" r="9.5" fill="none" stroke="#000000" stroke-width="3.1" stroke-linejoin="round"/>
<circle cx="1669" cy="650.5" r="9.5" fill="none" stroke="#000000" stroke-width="3.1" stroke-linejoin="round"/>
<circle cx="1700.2" cy="582.9" r="9.5" fill="none" stroke="#000000" stroke-width="3.1" stroke-linejoin="round"/>
<circle cx="1703.2" cy="650.5" r="9.5" fill="none" stroke="#000000" stroke-width="3.1" stroke-linejoin="round"/>
<circle cx="1722.8" cy="524.9" r="9.5" fill="none" stroke="#000000" stroke-width="3.1" stroke-linejoin="round"/>
<path d="M1087.6 564.1 L1108 564.9 M1117 564.9 L1137.6 568.49 M1147.7 570.25 L1168.3 573.84 M1178.4 575.6 L1199 579.18 M1209.1 580.94 L1227.8 584.2 M1227.8 584.2 L1248.4 583.93 M1258.5 583.79 L1265.6 583.7 L1279.1 590.89 M1289.2 596.27 L1303.7 604 L1309.8 608.48 M1319.9 615.91 L1340.5 631.04 M1350.6 634.22 L1371.2 639.43 M1381.3 642.84 L1401.9 659.85 M1412 668.18 L1414.2 670 L1432.13 688.4 M1441.97 698.5 L1452.2 709 L1462.3 714.05 M1472.4 719.1 L1490.2 728 L1493 729.19 M1503.1 733.48 L1512.8 737.6" fill="none" stroke="#0000ff" stroke-width="2.8" stroke-linecap="round" stroke-linejoin="round"/>
<path d="M1087.6 575.76 L1097.7 558.27 L1077.5 558.27Z" fill="none" stroke="#0000ff" stroke-width="3.1" stroke-linejoin="round"/>
<path d="M1227.8 595.86 L1237.9 578.37 L1217.7 578.37Z" fill="none" stroke="#0000ff" stroke-width="3.1" stroke-linejoin="round"/>
<path d="M1265.6 595.36 L1275.7 577.87 L1255.5 577.87Z" fill="none" stroke="#0000ff" stroke-width="3.1" stroke-linejoin="round"/>
<path d="M1303.7 615.66 L1313.8 598.17 L1293.6 598.17Z" fill="none" stroke="#0000ff" stroke-width="3.1" stroke-linejoin="round"/>
<path d="M1341.8 643.66 L1351.9 626.17 L1331.7 626.17Z" fill="none" stroke="#0000ff" stroke-width="3.1" stroke-linejoin="round"/>
<path d="M1379.8 653.26 L1389.9 635.77 L1369.7 635.77Z" fill="none" stroke="#0000ff" stroke-width="3.1" stroke-linejoin="round"/>
<path d="M1414.2 681.66 L1424.3 664.17 L1404.1 664.17Z" fill="none" stroke="#0000ff" stroke-width="3.1" stroke-linejoin="round"/>
<path d="M1452.2 720.66 L1462.3 703.17 L1442.1 703.17Z" fill="none" stroke="#0000ff" stroke-width="3.1" stroke-linejoin="round"/>
<path d="M1490.2 739.66 L1500.3 722.17 L1480.1 722.17Z" fill="none" stroke="#0000ff" stroke-width="3.1" stroke-linejoin="round"/>
<path d="M1512.8 749.26 L1522.9 731.77 L1502.7 731.77Z" fill="none" stroke="#0000ff" stroke-width="3.1" stroke-linejoin="round"/>
<path d="M1087.6 564.1 L1108 564.88 M1117 564.88 L1137.6 568.34 M1147.7 570.04 L1168.3 573.5 M1178.4 575.2 L1199 578.66 M1209.1 580.36 L1227.8 583.5 M1227.8 583.5 L1248.4 572.98 M1258.5 567.83 L1265.6 564.2 L1279.1 574.05 M1289.2 581.42 L1303.7 592 L1305.87 598.1 M1309.46 608.2 L1316.79 628.8 M1320.38 638.9 L1327.71 659.5 M1331.31 669.6 L1338.63 690.2 M1343 699.1 L1363.6 699.1 M1373.7 699.1 L1379.8 699.1 L1390.11 713.6 M1397.28 723.7 L1411.93 744.3 M1421.1 750.97 L1441.7 761.32 M1451.8 766.4 L1452.2 766.6 L1463.8 786.8 M1469.6 796.9 L1474.6 805.6" fill="none" stroke="#008000" stroke-width="2.8" stroke-linecap="round" stroke-linejoin="round"/>
<path d="M1087.6 552.44 L1097.7 569.93 L1077.5 569.93Z" fill="none" stroke="#008000" stroke-width="3.1" stroke-linejoin="round"/>
<path d="M1227.8 571.84 L1237.9 589.33 L1217.7 589.33Z" fill="none" stroke="#008000" stroke-width="3.1" stroke-linejoin="round"/>
<path d="M1265.6 552.54 L1275.7 570.03 L1255.5 570.03Z" fill="none" stroke="#008000" stroke-width="3.1" stroke-linejoin="round"/>
<path d="M1303.7 580.34 L1313.8 597.83 L1293.6 597.83Z" fill="none" stroke="#008000" stroke-width="3.1" stroke-linejoin="round"/>
<path d="M1341.8 687.44 L1351.9 704.93 L1331.7 704.93Z" fill="none" stroke="#008000" stroke-width="3.1" stroke-linejoin="round"/>
<path d="M1379.8 687.44 L1389.9 704.93 L1369.7 704.93Z" fill="none" stroke="#008000" stroke-width="3.1" stroke-linejoin="round"/>
<path d="M1414.2 735.84 L1424.3 753.33 L1404.1 753.33Z" fill="none" stroke="#008000" stroke-width="3.1" stroke-linejoin="round"/>
<path d="M1452.2 754.94 L1462.3 772.43 L1442.1 772.43Z" fill="none" stroke="#008000" stroke-width="3.1" stroke-linejoin="round"/>
<path d="M1474.6 793.94 L1484.7 811.43 L1464.5 811.43Z" fill="none" stroke="#008000" stroke-width="3.1" stroke-linejoin="round"/>
<path d="M1087.6 564.1 L1108 566.8 M1117 566.8 L1137.6 578.85 M1147.7 584.75 L1168.3 596.8 M1178.4 602.71 L1199 614.76 M1209.1 620.66 L1227.8 631.6 M1227.8 631.6 L1248.4 636.94 M1258.5 639.56 L1265.6 641.4 L1271.53 654.9 M1275.96 665 L1285 685.6 M1289.43 695.7 L1298.48 716.3 M1302.91 726.4 L1303.7 728.2 L1322.5 742.81 M1332.6 750.65 L1341.8 757.8 L1353.2 766.47 M1363.3 774.15 L1379.8 786.7 L1383.9 785.54 M1394 782.7 L1414.2 777 L1414.39 776.6 M1419.21 766.5 L1429.03 745.9" fill="none" stroke="#ff0000" stroke-width="2.8" stroke-linecap="round" stroke-linejoin="round"/>
<rect x="1078.8" y="555.3" width="17.6" height="17.6" fill="none" stroke="#ff0000" stroke-width="3.1" stroke-linejoin="round"/>
<rect x="1219" y="622.8" width="17.6" height="17.6" fill="none" stroke="#ff0000" stroke-width="3.1" stroke-linejoin="round"/>
<rect x="1256.8" y="632.6" width="17.6" height="17.6" fill="none" stroke="#ff0000" stroke-width="3.1" stroke-linejoin="round"/>
<rect x="1294.9" y="719.4" width="17.6" height="17.6" fill="none" stroke="#ff0000" stroke-width="3.1" stroke-linejoin="round"/>
<rect x="1333" y="749" width="17.6" height="17.6" fill="none" stroke="#ff0000" stroke-width="3.1" stroke-linejoin="round"/>
<rect x="1371" y="777.9" width="17.6" height="17.6" fill="none" stroke="#ff0000" stroke-width="3.1" stroke-linejoin="round"/>
<rect x="1405.4" y="768.2" width="17.6" height="17.6" fill="none" stroke="#ff0000" stroke-width="3.1" stroke-linejoin="round"/>
<rect x="1424" y="729.2" width="17.6" height="17.6" fill="none" stroke="#ff0000" stroke-width="3.1" stroke-linejoin="round"/>
<path d="M1087.6 564.1 L1108 569.14 M1117 569.14 L1135.88 589.74 M1145.14 599.84 L1164.03 620.44 M1173.29 630.54 L1192.17 651.14 M1201.43 661.24 L1220.32 681.84 M1227.8 690 L1248.4 705.53 M1258.5 713.15 L1265.6 718.5 L1279.1 725.41 M1289.2 730.58 L1303.7 738 L1309.8 739.57 M1319.9 742.17 L1340.5 747.47 M1350.6 743.28 L1371.2 732.71" fill="none" stroke="#ff00ff" stroke-width="2.8" stroke-linecap="round" stroke-linejoin="round"/>
<path d="M1087.6 552.8 L1098.9 564.1 L1087.6 575.4 L1076.3 564.1Z" fill="none" stroke="#ff00ff" stroke-width="3.1" stroke-linejoin="round"/>
<path d="M1227.8 678.7 L1239.1 690 L1227.8 701.3 L1216.5 690Z" fill="none" stroke="#ff00ff" stroke-width="3.1" stroke-linejoin="round"/>
<path d="M1265.6 707.2 L1276.9 718.5 L1265.6 729.8 L1254.3 718.5Z" fill="none" stroke="#ff00ff" stroke-width="3.1" stroke-linejoin="round"/>
<path d="M1303.7 726.7 L1315 738 L1303.7 749.3 L1292.4 738Z" fill="none" stroke="#ff00ff" stroke-width="3.1" stroke-linejoin="round"/>
<path d="M1341.8 736.5 L1353.1 747.8 L1341.8 759.1 L1330.5 747.8Z" fill="none" stroke="#ff00ff" stroke-width="3.1" stroke-linejoin="round"/>
<path d="M1379.8 717 L1391.1 728.3 L1379.8 739.6 L1368.5 728.3Z" fill="none" stroke="#ff00ff" stroke-width="3.1" stroke-linejoin="round"/>
</g>
<g font-family="'Liberation Sans', Arial, sans-serif" font-size="34.8" fill="#000"><text x="1047.3" y="499.3" text-anchor="end">0.2</text><text x="1047.3" y="575.5" text-anchor="end">0.0</text><text x="1047.3" y="651.7" text-anchor="end">-0.2</text><text x="1047.3" y="727.9" text-anchor="end">-0.4</text><text x="1047.3" y="804.1" text-anchor="end">-0.6</text><text x="1047.3" y="880.3" text-anchor="end">-0.8</text><text x="1087.6" y="916.1" text-anchor="middle">0</text><text x="1238.8" y="916.1" text-anchor="middle">10<tspan font-size="22.0" dy="-11.3">-2</tspan></text><text x="1365.1" y="916.1" text-anchor="middle">10<tspan font-size="22.0" dy="-11.3">-1</tspan></text><text x="1491.4" y="916.1" text-anchor="middle">10<tspan font-size="22.0" dy="-11.3">0</tspan></text><text x="1617.7" y="916.1" text-anchor="middle">10<tspan font-size="22.0" dy="-11.3">1</tspan></text><text x="1744" y="916.1" text-anchor="middle">10<tspan font-size="22.0" dy="-11.3">2</tspan></text></g>
<text x="1685.4" y="532.0" font-family="'Liberation Sans', Arial, sans-serif" font-size="28.95" text-anchor="end" >Illumination at 1 sun</text><text x="1706.6" y="689.6" font-family="'Liberation Sans', Arial, sans-serif" font-size="28.4" text-anchor="end" font-weight="bold" fill="#000000">80 °C</text><text x="1706.1" y="719.3" font-family="'Liberation Sans', Arial, sans-serif" font-size="28.4" text-anchor="end" font-weight="bold" fill="#0000ff">100 °C</text><text x="1707.7" y="754.1" font-family="'Liberation Sans', Arial, sans-serif" font-size="28.4" text-anchor="end" font-weight="bold" fill="#008000">120 °C</text><text x="1707.7" y="785.6" font-family="'Liberation Sans', Arial, sans-serif" font-size="28.4" text-anchor="end" font-weight="bold" fill="#ff0000">140 °C</text><text x="1707.7" y="817.0" font-family="'Liberation Sans', Arial, sans-serif" font-size="28.4" text-anchor="end" font-weight="bold" fill="#ff33ff">160 °C</text><text x="1088.0" y="844.4" font-family="'Liberation Sans', Arial, sans-serif" font-size="28.75" text-anchor="start" >Ga-doped Cz-Si POLO BJ solar cells</text><text x="1711.4" y="845.9" font-family="'Liberation Sans', Arial, sans-serif" font-size="28.85" text-anchor="end" >(d)</text><text transform="translate(940.2 678.0) rotate(-90)" font-family="'Liberation Sans', Arial, sans-serif" font-size="35.0" text-anchor="middle" fill="#000"><tspan font-family="'Liberation Serif', 'Times New Roman', serif" font-size="34.5" font-style="italic" stroke="#000" stroke-width="0.25">Δ</tspan><tspan font-style="italic" dx="-1">J</tspan><tspan font-size="22.0" dy="7.5" dx="-0.5">SC</tspan><tspan dy="-7.5"> </tspan>[<tspan dx="0.3">%</tspan><tspan font-size="22.0" dy="7.5">rel</tspan><tspan dy="-7.5" dx="0">]</tspan></text>
</g>
<text x="493.9" y="961.8" font-family="'Liberation Sans', Arial, sans-serif" font-size="35.0" text-anchor="middle" >Illumination time <tspan font-style="italic">t</tspan> [h]</text><text x="1404.3" y="961.8" font-family="'Liberation Sans', Arial, sans-serif" font-size="35.0" text-anchor="middle" >Illumination time <tspan font-style="italic">t</tspan> [h]</text>
</svg>
</body></html>
